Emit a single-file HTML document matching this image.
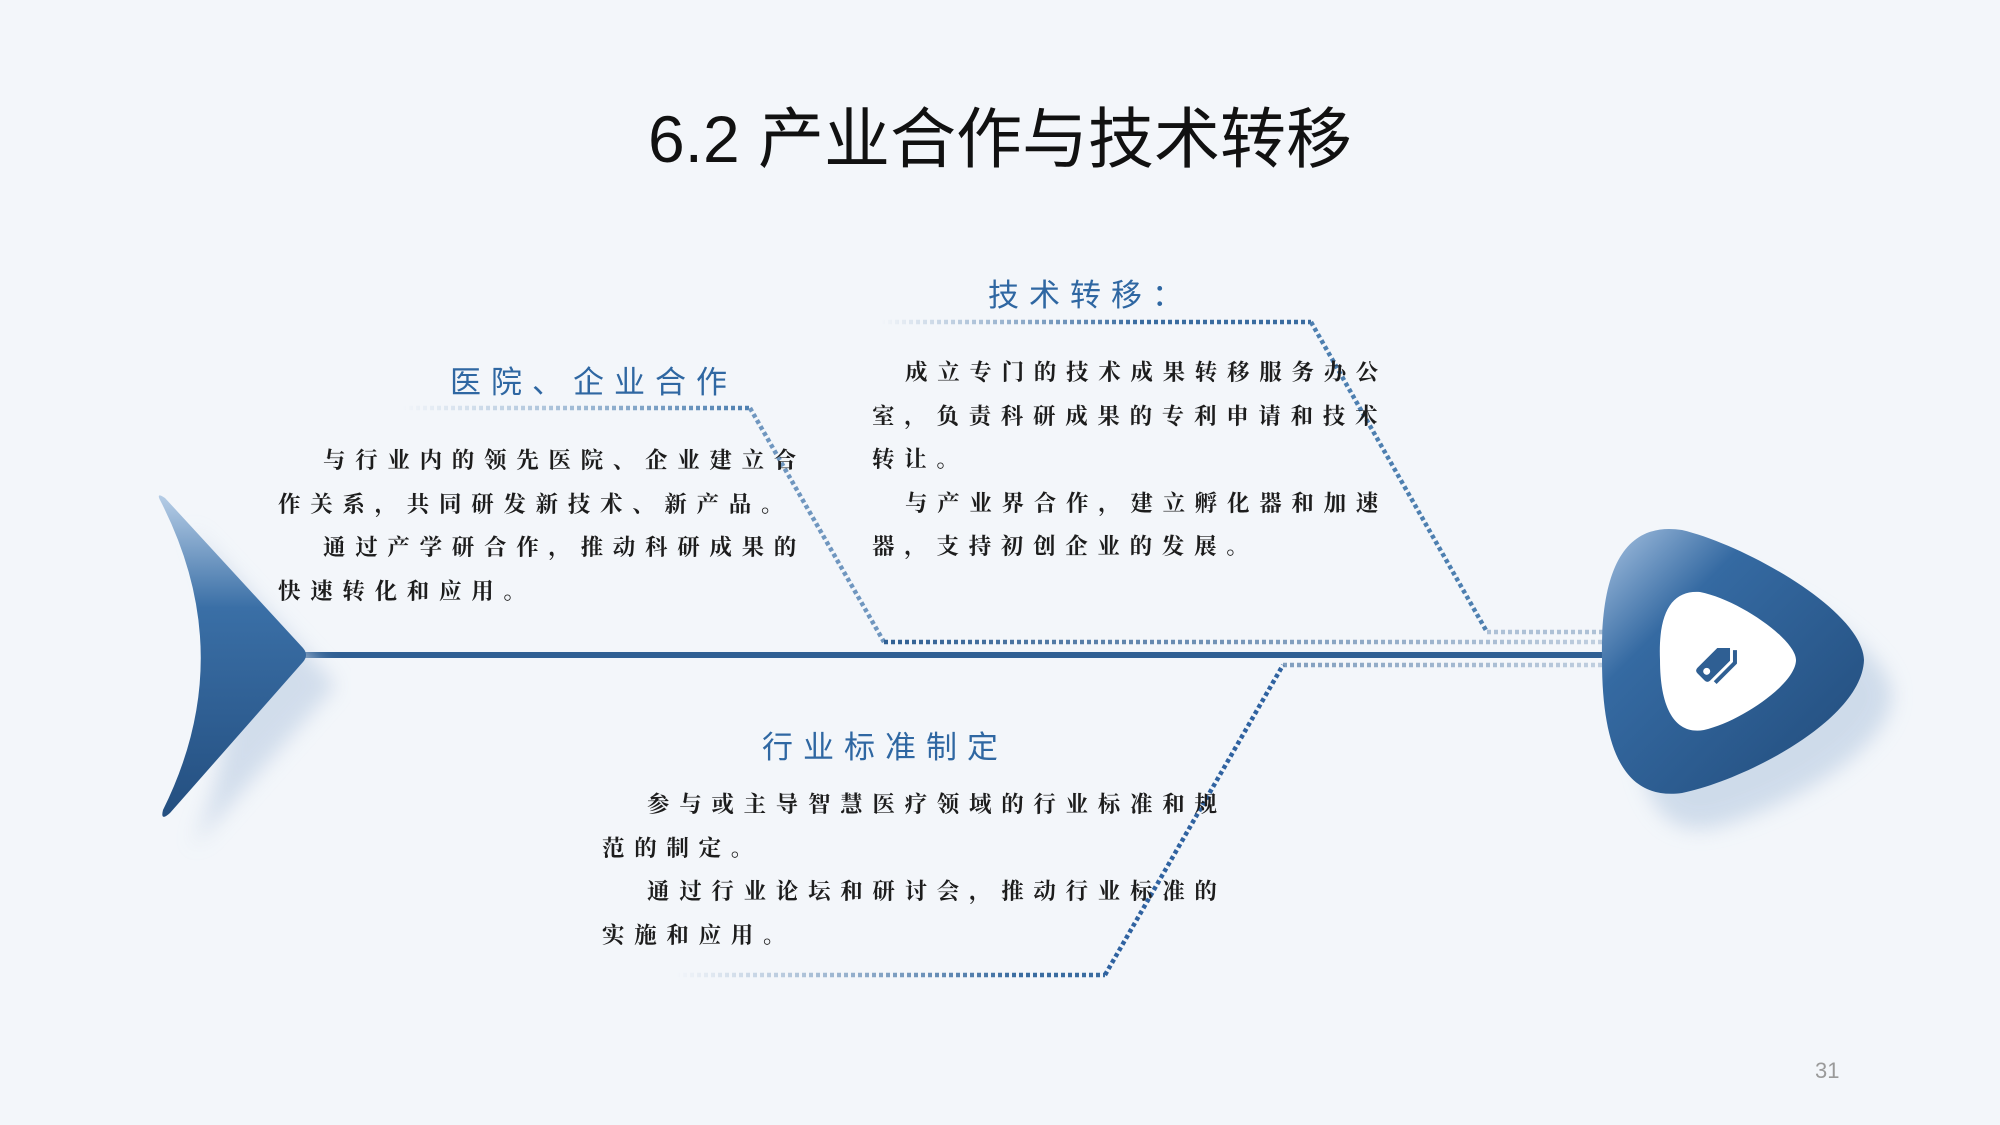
<!DOCTYPE html>
<html><head><meta charset="utf-8"><style>
html,body{margin:0;padding:0}
body{width:2000px;height:1125px;background:#f3f6fa;position:relative;overflow:hidden;font-family:"Liberation Sans","Noto Sans CJK SC",sans-serif}
.t{position:absolute;white-space:nowrap}
.title{left:0;width:2000px;text-align:center;top:86px;font-size:66px;color:#111;font-family:"Liberation Sans","Noto Sans CJK SC",sans-serif}
.h{color:#2f67a2;font-size:31px;letter-spacing:10px}
.b{font-family:"Liberation Serif","Noto Serif CJK SC",serif;font-weight:bold;font-size:22.5px;letter-spacing:9.7px;color:#1d1d1d;line-height:43.5px}
.i{display:inline-block;width:45px}
.i2{display:inline-block;width:33px}
</style></head><body>
<svg width="2000" height="1125" style="position:absolute;left:0;top:0">
<defs>
<linearGradient id="tail" x1="0" y1="0" x2="0" y2="1">
<stop offset="0" stop-color="#b6cde6"/><stop offset="0.35" stop-color="#3a6fa6"/><stop offset="1" stop-color="#244f80"/></linearGradient>
<linearGradient id="head" x1="0" y1="0" x2="1" y2="1">
<stop offset="0" stop-color="#a8c3e2"/><stop offset="0.3" stop-color="#356aa2"/><stop offset="1" stop-color="#214b7a"/></linearGradient>
<linearGradient id="f1" gradientUnits="userSpaceOnUse" x1="402" y1="0" x2="750" y2="0"><stop offset="0" stop-color="#4d7fb0" stop-opacity="0"/><stop offset="1" stop-color="#4d7fb0"/></linearGradient>
<linearGradient id="f2" gradientUnits="userSpaceOnUse" x1="881" y1="0" x2="1311" y2="0"><stop offset="0" stop-color="#3a6ca0" stop-opacity="0"/><stop offset="0.6" stop-color="#3a6ca0"/></linearGradient>
<linearGradient id="f3" gradientUnits="userSpaceOnUse" x1="676" y1="0" x2="1105" y2="0"><stop offset="0" stop-color="#3a6ca0" stop-opacity="0"/><stop offset="0.8" stop-color="#3a6ca0"/></linearGradient>
<linearGradient id="r" gradientUnits="userSpaceOnUse" x1="880" y1="0" x2="1610" y2="0"><stop offset="0" stop-color="#2f5f93"/><stop offset="1" stop-color="#2f5f93" stop-opacity="0.25"/></linearGradient>
<filter id="bl"><feGaussianBlur stdDeviation="10"/></filter>
</defs>
<g fill="none" stroke-width="4.5" stroke-dasharray="4 3">
<path d="M402 408 H750" stroke="url(#f1)"/>
<path d="M750 408 L884 642" stroke="#6f96bf"/>
<path d="M884 642 H1605" stroke="url(#r)"/>
<path d="M881 322 H1311" stroke="url(#f2)"/>
<path d="M1311 322 L1487 632" stroke="#4d7fb0"/>
<path d="M1487 632 H1605" stroke="#2f5f93" stroke-opacity="0.35"/>
<path d="M676 975 H1105" stroke="url(#f3)"/>
<path d="M1105 975 L1283 665" stroke="#2f62a0"/>
<path d="M1283 665 H1605" stroke="url(#r)"/>
</g>
<rect x="300" y="652" width="1310" height="6" fill="#2f5f93"/>
<path d="M190 528 L336 685 L193 847 Q264 685 190 528 Z" fill="#c9d7e8" filter="url(#bl)" opacity="0.8"/>
<path d="M160 500 Q156 492 165 498 L303 648 Q309 655 303 662 L170 813 Q160 822 163 810 Q240 655 160 500 Z" fill="url(#tail)"/>
<path d="M1635 695 C1630 595 1660 555 1710 565 C1770 580 1890 645 1892 695 C1890 755 1770 815 1710 828 C1660 835 1635 795 1635 695 Z" fill="#c6d5e7" filter="url(#bl)" opacity="0.8"/>
<path d="M1602 660 C1600 560 1630 522 1682 530 C1745 545 1862 610 1864 660 C1862 720 1745 780 1682 793 C1630 800 1602 760 1602 660 Z" fill="url(#head)"/>
<path d="M1660 660 C1658 612 1672 590 1700 592 C1740 600 1796 640 1796 660 C1796 684 1740 722 1704 730 C1676 735 1660 710 1660 660 Z" fill="#fff"/>
<g transform="translate(1718,660) rotate(-45)">
<path d="M-20 -9 Q-24 -9 -24 -5 V5 Q-24 9 -20 9 H8 L17 0 L8 -9 Z" fill="#2f5f93"/>
<path d="M-18 14 H10 L19 5" fill="none" stroke="#2f5f93" stroke-width="4"/>
<circle cx="-16" cy="0" r="3.5" fill="#fff"/>
</g>
</svg>
<div class="t title">6.2 产业合作与技术转移</div>
<div class="t h" style="left:450px;top:357px">医院、企业合作</div>
<div class="t h" style="left:988px;top:270px">技术转移：</div>
<div class="t h" style="left:762px;top:722px">行业标准制定</div>
<div class="t b" style="left:278px;top:439px"><span class="i"></span>与行业内的领先医院、企业建立合<br>作关系，共同研发新技术、新产品。<br><span class="i"></span>通过产学研合作，推动科研成果的<br>快速转化和应用。</div>
<div class="t b" style="left:872px;top:351px"><span class="i2"></span>成立专门的技术成果转移服务办公<br>室，负责科研成果的专利申请和技术<br>转让。<br><span class="i2"></span>与产业界合作，建立孵化器和加速<br>器，支持初创企业的发展。</div>
<div class="t b" style="left:602px;top:783px"><span class="i"></span>参与或主导智慧医疗领域的行业标准和规<br>范的制定。<br><span class="i"></span>通过行业论坛和研讨会，推动行业标准的<br>实施和应用。</div>
<div class="t" style="left:1815px;top:1058px;font-size:22px;color:#9a9a9a">31</div>
</body></html>
